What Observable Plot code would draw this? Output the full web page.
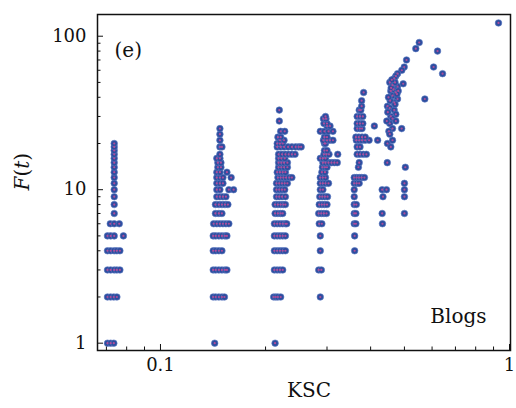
<!DOCTYPE html>
<html><head><meta charset="utf-8">
<script src="https://cdn.jsdelivr.net/npm/d3@7"></script>
<script src="https://cdn.jsdelivr.net/npm/@observablehq/plot@0.6"></script>
<style>body{margin:0;background:#fff} svg{display:block} svg text{font-family:"DejaVu Serif",serif !important}</style>
</head><body><div id="chart"></div>
<script>
// Columns: [F value, [KSC values at that F]]
const col1 = [
  [1, [0.0705, 0.072, 0.0735]],
  [2, [0.0705, 0.072, 0.0735, 0.075]],
  [3, [0.0705, 0.072, 0.0737, 0.075, 0.0765]],
  [4, [0.0705, 0.072, 0.0737, 0.075, 0.0765]],
  [5, [0.0705, 0.072, 0.0737, 0.0783]],
  [6, [0.0718, 0.0737, 0.0762]],
  [7, [0.0737]], [8, [0.0737]], [9, [0.0737]], [10, [0.0737]], [11, [0.0737]],
  [12, [0.0737]], [13, [0.0737]], [14, [0.0737]], [15, [0.0737]], [16, [0.0737]],
  [17, [0.0737]], [18, [0.0737]], [19, [0.0737]], [20, [0.0737]]
];
const col2 = [
  [1, [0.143]],
  [2, [0.1416, 0.144, 0.147, 0.150, 0.1525]],
  [3, [0.1416, 0.144, 0.147, 0.150, 0.153, 0.155]],
  [4, [0.1416, 0.144, 0.147, 0.150]],
  [5, [0.1416, 0.144, 0.147, 0.150, 0.153, 0.155]],
  [6, [0.142, 0.145, 0.148, 0.151, 0.154, 0.157]],
  [7, [0.1437, 0.147, 0.150]],
  [8, [0.1437, 0.147, 0.150, 0.153, 0.156]],
  [9, [0.145, 0.148, 0.151, 0.154]],
  [10, [0.145, 0.148, 0.157, 0.162]],
  [11, [0.145, 0.148, 0.151]],
  [12, [0.145, 0.148, 0.151, 0.1594]],
  [13, [0.145, 0.148, 0.155]],
  [14, [0.146, 0.149]],
  [15, [0.146, 0.149]],
  [16, [0.145, 0.148]],
  [17, [0.148]],
  [19, [0.148, 0.150]],
  [21, [0.148]],
  [23, [0.148]],
  [25, [0.148]]
];
const col3 = [
  [1, [0.213]],
  [2, [0.211, 0.214, 0.217, 0.221]],
  [3, [0.212, 0.216, 0.220, 0.224]],
  [4, [0.212, 0.216, 0.220, 0.224, 0.228]],
  [5, [0.212, 0.216, 0.220, 0.224, 0.228]],
  [6, [0.212, 0.216, 0.220, 0.224, 0.228, 0.230]],
  [7, [0.213, 0.217, 0.221, 0.224]],
  [8, [0.213, 0.217, 0.221, 0.225, 0.228]],
  [9, [0.215, 0.219, 0.223, 0.228]],
  [10, [0.215, 0.219, 0.223, 0.227]],
  [11, [0.215, 0.219, 0.223, 0.227, 0.231]],
  [12, [0.217, 0.221, 0.225, 0.229, 0.234, 0.238]],
  [13, [0.216, 0.220, 0.224, 0.228]],
  [14, [0.218, 0.222, 0.226, 0.231]],
  [15, [0.218, 0.222, 0.226, 0.231]],
  [16, [0.218, 0.222, 0.227]],
  [17, [0.218, 0.223, 0.228, 0.233, 0.238, 0.243]],
  [19, [0.216, 0.221, 0.226, 0.232, 0.238, 0.244, 0.249, 0.253]],
  [20, [0.216, 0.220, 0.224]],
  [21, [0.220, 0.226]],
  [22, [0.217, 0.221]],
  [24, [0.221, 0.227]],
  [28, [0.219]],
  [33, [0.219]]
];
const col4 = [
  [2, [0.287]],
  [3, [0.284, 0.289]],
  [4, [0.287]],
  [5, [0.287]],
  [6, [0.285, 0.290]],
  [7, [0.284, 0.289, 0.294, 0.299]],
  [8, [0.285, 0.290, 0.295, 0.300]],
  [9, [0.286, 0.291, 0.296, 0.301]],
  [10, [0.287, 0.292]],
  [11, [0.287, 0.292, 0.297, 0.303]],
  [12, [0.287, 0.292, 0.297]],
  [13, [0.290, 0.296]],
  [14, [0.291, 0.296, 0.300]],
  [15, [0.292, 0.297, 0.303, 0.309, 0.315, 0.321]],
  [16, [0.287, 0.292, 0.297]],
  [17, [0.294, 0.299, 0.304, 0.322]],
  [18, [0.295, 0.300]],
  [20, [0.295, 0.297]],
  [21, [0.293, 0.300, 0.306, 0.312]],
  [22, [0.295, 0.300]],
  [24, [0.287, 0.295, 0.303, 0.312]],
  [26, [0.300, 0.306]],
  [27, [0.294, 0.300]],
  [29, [0.293, 0.298]],
  [30, [0.297]]
];
const col5 = [
  [4, [0.360]],
  [5, [0.360]],
  [6, [0.359, 0.363]],
  [7, [0.359, 0.363]],
  [8, [0.359, 0.364]],
  [9, [0.359]],
  [10, [0.359]],
  [11, [0.359, 0.365, 0.371]],
  [12, [0.359, 0.365, 0.371, 0.377, 0.384]],
  [14, [0.369]],
  [15, [0.371]],
  [17, [0.366, 0.373, 0.381, 0.389]],
  [19, [0.366, 0.373]],
  [21, [0.364, 0.371, 0.378, 0.386, 0.396]],
  [22, [0.363, 0.370, 0.378, 0.386]],
  [25, [0.366, 0.373, 0.378]],
  [27, [0.366, 0.373, 0.380]],
  [30, [0.366, 0.373, 0.380]],
  [33, [0.371, 0.375]],
  [35, [0.377]],
  [38, [0.377]],
  [43, [0.382]]
];
// [KSC, F] pairs
const col6 = [
  [0.5512, 91], [0.5389, 83], [0.5069, 70], [0.4993, 63], [0.4914, 60], [0.4777, 57],
  [0.4724, 55], [0.4674, 53], [0.4539, 50], [0.4622, 48], [0.4777, 47], [0.4959, 49],
  [0.457, 44], [0.4724, 43], [0.4622, 41], [0.4777, 39], [0.4674, 37], [0.447, 35],
  [0.4539, 34], [0.4674, 33], [0.4724, 31], [0.457, 30], [0.4622, 29], [0.4539, 27],
  [0.4724, 28], [0.4622, 25], [0.4512, 24], [0.4539, 23], [0.447, 20], [0.4622, 21],
  [0.457, 19], [0.448, 32], [0.455, 38], [0.465, 45], [0.470, 50], [0.460, 52],
  [0.458, 46], [0.450, 40], [0.445, 28], [0.480, 44], [0.470, 36], [0.476, 42]
];
const outliers = [
  [0.4317, 10], [0.4442, 10], [0.434, 9], [0.4317, 7], [0.4325, 6],
  [0.500, 11], [0.500, 10], [0.500, 9], [0.500, 7], [0.503, 14], [0.4465, 15],
  [0.419, 21], [0.410, 26], [0.491, 25], [0.572, 39],
  [0.930, 122], [0.622, 80], [0.606, 63], [0.643, 57]
];
const xMajor = [0.1, 1];
const xMinor = [0.07, 0.08, 0.09, 0.2, 0.3, 0.4, 0.5, 0.6, 0.7, 0.8, 0.9];
const yMajor = [1, 10, 100];
const yMinor = [2, 3, 4, 5, 6, 7, 8, 9, 20, 30, 40, 50, 60, 70, 80, 90];
const xLabels = ["0.1", "1"];
const yLabels = ["1", "10", "100"];

const points = [];
for (const col of [col1, col2, col3, col4, col5])
  for (const [f, xs] of col) for (const x of xs) points.push({ksc: x, F: f});
for (const [x, f] of [...col6, ...outliers]) points.push({ksc: x, F: f});

const ink = "#111";
const serif = "DejaVu Serif";
const fs = 18, ls = 20;
const chart = Plot.plot({
  width: 516, height: 408,
  marginLeft: 97, marginRight: 6, marginTop: 14, marginBottom: 58,
  style: {fontFamily: serif, fontSize: fs + "px", color: ink, background: "#fff"},
  x: {type: "log", domain: [0.066, 1.0066]},
  y: {type: "log", domain: [0.896, 138.5]},
  marks: [
    Plot.dot(points, {x: "ksc", y: "F", r: 3.3, fill: "#2d4d9e", stroke: "#5b78c2", strokeWidth: 0.6}),
    Plot.dot(points, {x: "ksc", y: "F", r: 1.1, fill: "#b04c9c"}),
    Plot.axisX(xMajor, {tickSize: -6, tickFormat: () => "", label: null, stroke: ink}),
    Plot.axisX(xMinor, {tickSize: -3.5, tickFormat: () => "", label: null, stroke: ink}),
    Plot.axisX(xMajor, {tickSize: 0, tickPadding: 8, tickFormat: d => xLabels[xMajor.indexOf(d)], label: null, fontSize: fs, fill: ink}),
    Plot.axisY(yMajor, {tickSize: -6, tickFormat: () => "", label: null, stroke: ink}),
    Plot.axisY(yMinor, {tickSize: -3.5, tickFormat: () => "", label: null, stroke: ink}),
    Plot.axisY(yMajor, {tickSize: 0, tickPadding: 11, tickFormat: d => yLabels[yMajor.indexOf(d)], label: null, fontSize: fs, fill: ink}),
    Plot.frame({stroke: ink, strokeWidth: 1.5}),
    Plot.text(["(e)"], {frameAnchor: "top-left", dx: 17, dy: 28, textAnchor: "start", fontSize: ls, fontFamily: serif}),
    Plot.text(["Blogs"], {frameAnchor: "bottom-right", dx: -24, dy: -28, textAnchor: "end", fontSize: ls, fontFamily: serif}),
    Plot.text(["KSC"], {frameAnchor: "bottom", dx: 5, dy: 46, fontSize: ls, fontFamily: serif}),
    Plot.text(["F(t)"], {frameAnchor: "left", dx: -75, dy: 8, rotate: -90, fontSize: ls, fontFamily: serif, className: "ylab"})
  ]
});
document.getElementById("chart").appendChild(chart);
// italic F and t, upright parentheses
const yl = d3.select(chart).select(".ylab text");
if (!yl.empty()) {
  yl.text("");
  yl.append("tspan").attr("font-style", "italic").text("F");
  yl.append("tspan").text("(");
  yl.append("tspan").attr("font-style", "italic").text("t");
  yl.append("tspan").text(")");
}
</script></body></html>
